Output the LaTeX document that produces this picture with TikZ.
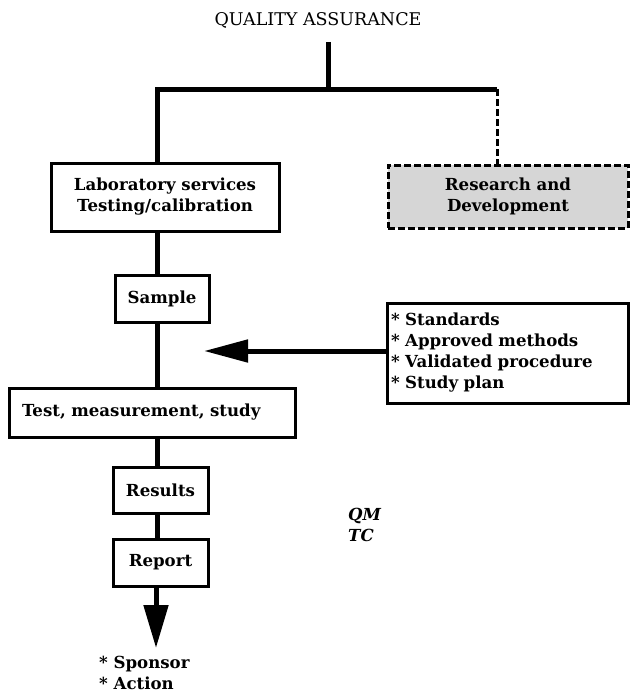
\documentclass[tikz,border=0pt]{standalone}
\usepackage{fontspec}
\setmainfont{DejaVu Serif}
\usetikzlibrary{arrows.meta, positioning}
\newcommand{\boxfont}{\bfseries\fontsize{16.6}{21}\selectfont}
\tikzset{
    box/.style = {rectangle, draw, line width=3pt, inner sep=0pt, font=\boxfont, align=center},
    dashbox/.style = {box, dash pattern=on 7pt off 3pt, fill=black!16},
    bar/.style = {line width=5pt},
    bigarrow/.style = {bar, -{Triangle[length=43pt, width=24pt]}},
    note/.style = {font=\boxfont, align=left, inner sep=0pt, anchor=west}
}
\begin{document}
\begin{tikzpicture}[x=1pt, y=-1pt]
    \useasboundingbox (0,0) rectangle (630,693);

    \node[font=\fontsize{17.5}{20}\selectfont] (qa) at (318,20) {QUALITY ASSURANCE};
    \coordinate (top) at (328,42);
    \coordinate (fork) at (328,89);
    \coordinate (spine) at (157,89);
    \coordinate (branch) at (497,89);

    \node[box, minimum width=228pt, minimum height=68pt] (lab) at (165,197) {Laboratory services\\Testing/calibration};
    \node[dashbox, minimum width=240pt, minimum height=63pt] (rd) at (508,196.5) {Research and\\Development};
    \node[box, minimum width=94pt, minimum height=47pt] (sample) at (162,298.5) {Sample};
    \node[box, minimum width=286pt, minimum height=49pt, text width=260pt, align=left] (test) at (152,412.5) {Test, measurement, study};
    \node[box, minimum width=95pt, minimum height=46pt] (results) at (160.5,490) {Results};
    \node[box, minimum width=95pt, minimum height=47pt] (report) at (160.5,562.5) {Report};
    \node[box, minimum width=241pt, minimum height=100pt, text width=233pt, align=left] (std) at (507.5,353)
        {{*} Standards\\{*} Approved methods\\{*} Validated procedure\\{*} Study plan};

    \node[note] (sponsor) at (99,673) {{*} Sponsor\\{*} Action};
    \node[note, font=\boxfont\itshape] (qm) at (348,525) {QM\\TC};

    % tree on top
    \draw[bar] (top) -- (fork);
    \draw[bar] (lab.north -| spine) -- (spine) -- (branch);
    \draw[line width=3pt, dash pattern=on 7pt off 3pt] (branch) -- (rd.north -| branch);

    % main flow
    \draw[bar] (lab.south -| spine) -- (sample.north -| spine);
    \draw[bar] (sample.south -| spine) -- (test.north -| spine);
    \draw[bar] (test.south -| spine) -- (results.north -| spine);
    \draw[bar] (results.south -| spine) -- (report.north -| spine);
    \coordinate (out) at (156,648);
    \draw[bigarrow] (report.south -| out) -- (out);

    \coordinate (into) at (204,351);
    \draw[bar, -{Triangle[length=44pt, width=22pt]}] (std.west |- into) -- (into);
\end{tikzpicture}
\end{document}
